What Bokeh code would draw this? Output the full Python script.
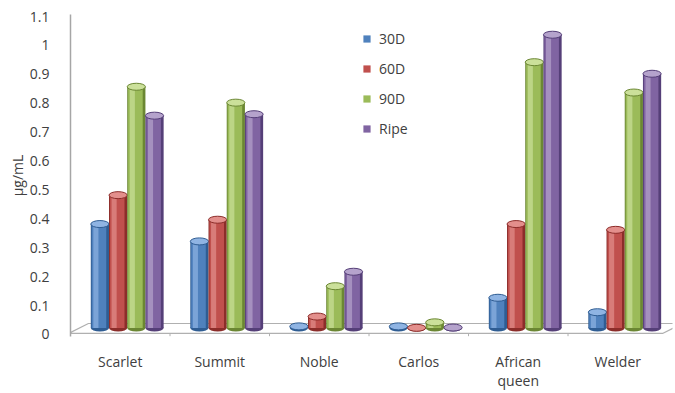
from bokeh.plotting import figure
from bokeh.models import (ColumnDataSource, Range1d, FixedTicker, NumeralTickFormatter,
                          Legend, LegendItem)
from bokeh.embed import file_html
from bokeh.resources import INLINE

# ---- data ----
varieties = ["Scarlet", "Summit", "Noble", "Carlos", "African\nqueen", "Welder"]
series = ["30D", "60D", "90D", "Ripe"]
v30D = [0.36, 0.30, 0.006, 0.006, 0.105, 0.055]
v60D = [0.46, 0.375, 0.04, 0.001, 0.36, 0.34]
v90D = [0.835, 0.78, 0.145, 0.02, 0.92, 0.815]
vRipe = [0.735, 0.74, 0.195, 0.002, 1.015, 0.88]
y_ticks = [0, 0.1, 0.2, 0.3, 0.4, 0.5, 0.6, 0.7, 0.8, 0.9, 1.0, 1.1]

values = [v30D, v60D, v90D, vRipe]
# (edge, base, highlight) colours per series
palette = [
    ("#2f5d93", "#4f81bd", "#8fb4e3"),
    ("#8c2d2a", "#c0504d", "#e38f8c"),
    ("#6b8733", "#9bbb59", "#cbe09a"),
    ("#553f78", "#8064a2", "#b5a3cc"),
]

FONT = "Open Sans"
TXT = "#404040"

n = len(varieties)
bar_w = 0.183          # bar width in category units
depth_shift = 0.07     # 3-D depth shift of the bars to the right
base = 0.022           # floor depth where bars stand
floor_front, floor_back = 0.0035, 0.038

p = figure(width=675, height=393, output_backend="svg", toolbar_location=None,
           x_range=Range1d(0, 6.05), y_range=Range1d(-0.007, 1.107),
           min_border_left=70, min_border_right=3, min_border_top=14, min_border_bottom=57)
p.outline_line_color = None
p.grid.visible = False
p.background_fill_color = "white"

# floor of the 3-D chart
p.patch(x=[-0.02, 0.18, n + 0.15, n - 0.05], y=[floor_front, floor_back, floor_back, floor_front],
        fill_color="white", line_color="#b0b0b0", line_width=1.2)
bounds = list(range(1, n))
p.segment(x0=bounds, y0=[floor_front] * len(bounds), x1=bounds, y1=[floor_front - 0.01] * len(bounds),
          line_color="#b0b0b0", line_width=1)

legend_items = []
for k, (name, vals, (edge, mid, light)) in enumerate(zip(series, values, palette)):
    xs = [i + 0.5 + depth_shift + (k - 1.5) * bar_w for i in range(n)]
    src = ColumnDataSource(dict(
        x=xs,
        x_mid=[x - 0.05 * bar_w for x in xs],
        x_hi=[x - 0.22 * bar_w for x in xs],
        bottom=[base] * n,
        top=[base + v for v in vals],
    ))
    p.ellipse(x="x", y="bottom", width=bar_w, height=7, height_units="screen",
              fill_color=edge, line_color=None, source=src)
    p.vbar(x="x", bottom="bottom", top="top", width=bar_w, fill_color=edge, line_color=None, source=src)
    r = p.vbar(x="x_mid", bottom="bottom", top="top", width=bar_w * 0.8, fill_color=mid,
               line_color=None, source=src)
    p.vbar(x="x_hi", bottom="bottom", top="top", width=bar_w * 0.28, fill_color=light,
           fill_alpha=0.7, line_color=None, source=src)
    p.ellipse(x="x", y="top", width=bar_w, height=7, height_units="screen",
              fill_color=light, line_color=edge, line_width=1, source=src)
    legend_items.append(LegendItem(label=name, renderers=[r]))

legend = Legend(items=legend_items, location=(292, 198), orientation="vertical",
                padding=0, margin=0, spacing=11, glyph_width=9, glyph_height=9,
                label_height=19, label_standoff=8,
                label_text_font=FONT, label_text_font_size="14px", label_text_color=TXT,
                border_line_color=None, background_fill_alpha=0)
p.add_layout(legend)

# y axis
p.yaxis.ticker = FixedTicker(ticks=y_ticks)
p.yaxis.formatter = NumeralTickFormatter(format="0.[0]")
p.yaxis.axis_label = "µg/mL"
p.yaxis.axis_label_text_font = FONT
p.yaxis.axis_label_text_font_size = "14px"
p.yaxis.axis_label_text_font_style = "normal"
p.yaxis.axis_label_text_color = TXT
p.yaxis.axis_label_standoff = 0
p.yaxis.major_label_text_font = FONT
p.yaxis.major_label_text_font_size = "14px"
p.yaxis.major_label_text_color = TXT
p.yaxis.major_label_standoff = 15
p.yaxis.major_tick_line_color = None
p.yaxis.minor_tick_line_color = None
p.yaxis.axis_line_color = "#a6a6a6"
p.yaxis.axis_line_width = 1.5

# x axis with category names
p.xaxis.ticker = FixedTicker(ticks=[i + 0.5 for i in range(n)])
p.xaxis.major_label_overrides = {i + 0.5: lab for i, lab in enumerate(varieties)}
p.xaxis.major_label_text_font = FONT
p.xaxis.major_label_text_font_size = "14px"
p.xaxis.major_label_text_line_height = 1.0
p.xaxis.major_label_text_color = TXT
p.xaxis.major_label_standoff = 9
p.xaxis.major_tick_line_color = None
p.xaxis.minor_tick_line_color = None
p.xaxis.axis_line_color = None

open("out.html", "w").write(file_html(p, INLINE))
